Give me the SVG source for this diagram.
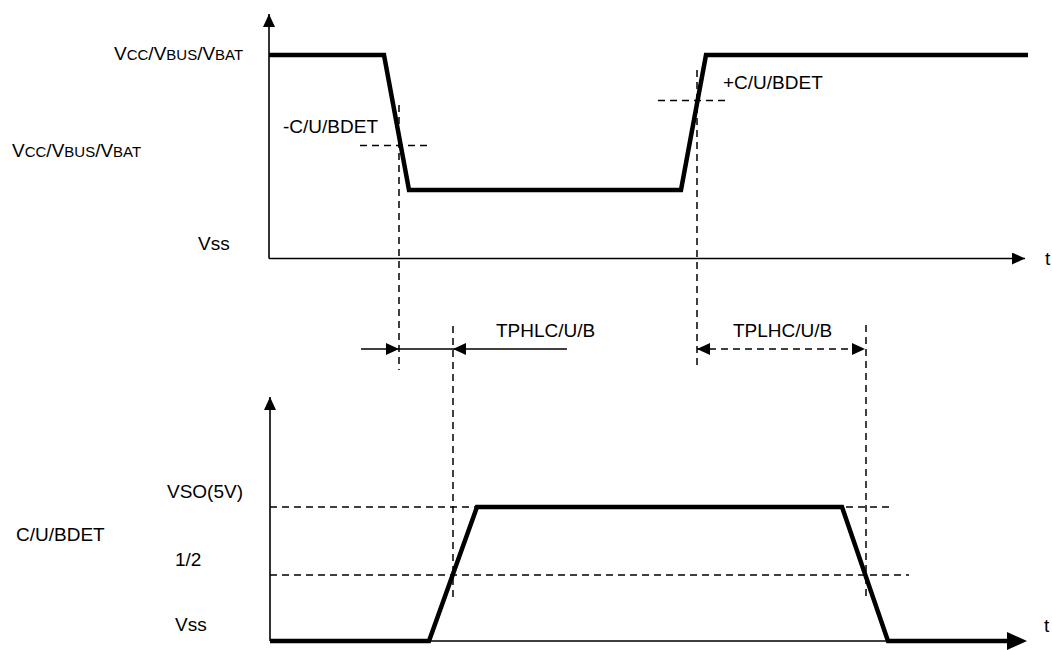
<svg xmlns="http://www.w3.org/2000/svg" width="1052" height="650" viewBox="0 0 1052 650">
<style>
text{font-family:"Liberation Sans",Arial,sans-serif;font-size:19px;fill:#000}
.sm{font-size:15px}
.axis{stroke:#000;stroke-width:1.6;fill:none}
.wave{stroke:#000;stroke-width:4.5;fill:none;stroke-linejoin:miter}
.dash{stroke:#000;stroke-width:1.5;fill:none;stroke-dasharray:7,5}
.thin{stroke:#000;stroke-width:1.6;fill:none}
</style>
<defs>
<marker id="ah" markerUnits="userSpaceOnUse" markerWidth="13" markerHeight="12" refX="13" refY="6" orient="auto-start-reverse" viewBox="0 0 13 12">
<path d="M0,0 L13,6 L0,12 z" fill="#000"/>
</marker>
</defs>
<rect width="1052" height="650" fill="#fff"/>
<g id="top-chart">
<line class="axis" x1="269" y1="258.5" x2="269" y2="14" marker-end="url(#ah)"/>
<line class="axis" x1="269" y1="258.5" x2="1025" y2="258.5" marker-end="url(#ah)"/>
<polyline class="wave" points="269,55 384,55 409,190 681,190 706,55 1028,55"/>
<line class="dash" x1="399" y1="105" x2="399" y2="370"/>
<line class="dash" x1="360" y1="145.5" x2="431" y2="145.5"/>
<line class="dash" x1="697" y1="70" x2="697" y2="367"/>
<line class="dash" x1="658" y1="100.5" x2="728" y2="100.5"/>
<text x="114" y="60">V<tspan class="sm">CC</tspan>/V<tspan class="sm">BUS</tspan>/V<tspan class="sm">BAT</tspan></text>
<text x="12" y="157">V<tspan class="sm">CC</tspan>/V<tspan class="sm">BUS</tspan>/V<tspan class="sm">BAT</tspan></text>
<text x="198" y="250">Vss</text>
<text x="283" y="133">-C/U/BDET</text>
<text x="723" y="89">+C/U/BDET</text>
<text x="1045" y="265">t</text>
</g>
<g id="connectors">
<line class="thin" x1="361" y1="349" x2="399" y2="349" marker-end="url(#ah)"/>
<line class="thin" x1="399" y1="349" x2="453" y2="349"/>
<line class="thin" x1="567" y1="349" x2="453" y2="349" marker-end="url(#ah)"/>
<line class="dash" x1="697" y1="349" x2="865" y2="349" marker-start="url(#ah)" marker-end="url(#ah)"/>
<text x="496" y="337">TPHLC/U/B</text>
<text x="733" y="337">TPLHC/U/B</text>
</g>
<g id="bottom-chart">
<line class="axis" x1="270" y1="641" x2="270" y2="397" marker-end="url(#ah)"/>
<line class="axis" x1="270" y1="641" x2="1010" y2="641"/>
<polyline class="wave" points="270,641 429,641 477,507 842,507 888,641 1010,641"/>
<path d="M1007,632 L1027,641 L1007,650 z" fill="#000"/>
<line class="dash" x1="453" y1="326" x2="453" y2="598"/>
<line class="dash" x1="866" y1="325" x2="866" y2="598"/>
<line class="dash" x1="270" y1="507" x2="889" y2="507"/>
<line class="dash" x1="270" y1="575" x2="909" y2="575"/>
<text x="167" y="498">VSO(5V)</text>
<text x="16" y="541">C/U/BDET</text>
<text x="175" y="566">1/2</text>
<text x="175" y="631">Vss</text>
<text x="1044" y="632">t</text>
</g>
</svg>
